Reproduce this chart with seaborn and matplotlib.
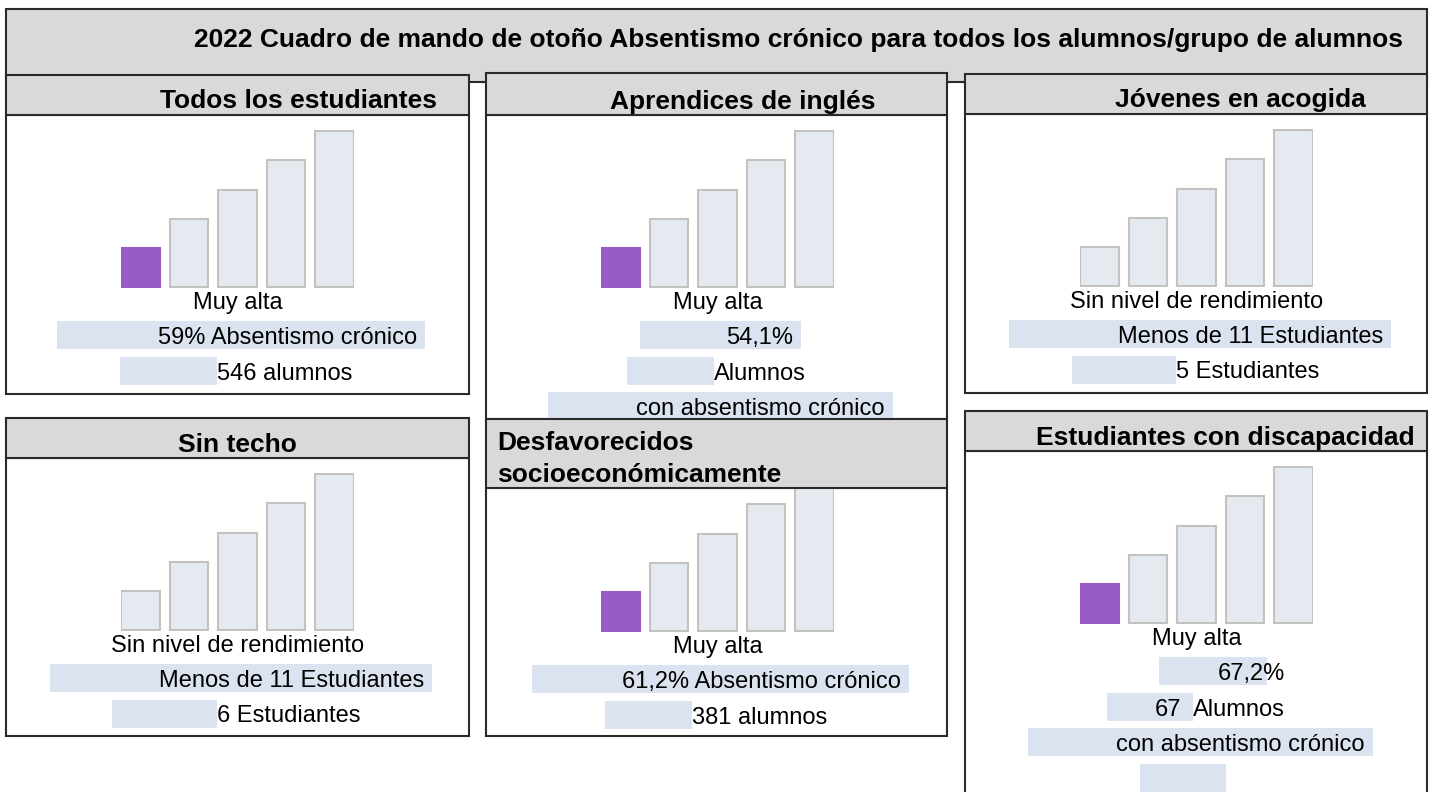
import matplotlib
matplotlib.use("Agg")
import matplotlib.pyplot as plt
import seaborn as sns
import pandas as pd
from matplotlib.patches import Rectangle

# ---- datos del cuadro de mando ----
titulo = "2022 Cuadro de mando de otoño Absentismo crónico para todos los alumnos/grupo de alumnos"
grupos = ["Todos los estudiantes", "Aprendices de inglés", "Jóvenes en acogida",
          "Sin techo", "Desfavorecidos\nsocioeconómicamente", "Estudiantes con discapacidad"]
niveles = ["1", "2", "3", "4", "5"]
alturas_nivel = [1, 1.75, 2.5, 3.25, 4]
nivel_marcado = [0, 0, None, None, 0, 0]
estado = ["Muy alta", "Muy alta", "Sin nivel de rendimiento",
          "Sin nivel de rendimiento", "Muy alta", "Muy alta"]
# (texto dentro de la franja, texto tras la franja)
filas_texto = [
    [("59% Absentismo crónico", ""), ("", "546 alumnos")],
    [("54,1%", ""), ("", "Alumnos"), ("con absentismo crónico", "")],
    [("Menos de 11 Estudiantes", ""), ("", "5 Estudiantes")],
    [("Menos de 11 Estudiantes", ""), ("", "6 Estudiantes")],
    [("61,2% Absentismo crónico", ""), ("", "381 alumnos")],
    [("67,2%", ""), ("67", "Alumnos"), ("con absentismo crónico", ""), ("", "")],
]

# ---- maqueta en píxeles ----
W, H = 1433, 792
# x0, x1, cabecera arriba, cabecera abajo, cuerpo abajo
cajas = [(6, 469, 75, 115, 394), (486, 947, 73, 115, 419), (965, 1427, 74, 114, 393),
         (6, 469, 418, 458, 736), (486, 947, 419, 488, 736), (965, 1427, 411, 451, 800)]
base_barras = [287, 287, 286, 630, 631, 623]
pos_cabecera = [(299, "center"), (743, "center"), (1240, "center"),
                (237, "center"), (497, "left"), (1225, "center")]
# x0, x1, fin del texto interior
franjas = [
    [(57, 425, 417), (120, 217, None)],
    [(640, 801, 793), (627, 714, None), (548, 893, 885)],
    [(1009, 1391, 1383), (1072, 1176, None)],
    [(50, 432, 424), (112, 217, None)],
    [(532, 909, 901), (605, 692, None)],
    [(1159, 1267, 1285), (1107, 1193, 1181), (1028, 1373, 1365), (1140, 1226, None)],
]

MORADO = "#995bc4"
GRIS_BARRA = "#e5e9f0"
BORDE_BARRA = "#c2c2c2"
GRIS_CAB = "#d9d9d9"
RESALTE = "#dae3ef"
BORDE = "#2a2a2a"
TEXTO = "black"

sns.set_theme(style="white")
plt.rcParams['font.family'] = ['Liberation Sans', 'DejaVu Sans']
plt.rcParams['text.color'] = TEXTO

fig = plt.figure(figsize=(W / 100, H / 100), dpi=100)
fondo = fig.add_axes([0, 0, 1, 1], zorder=0)
frente = fig.add_axes([0, 0, 1, 1], zorder=3)
for a in (fondo, frente):
    a.set_xlim(0, W)
    a.set_ylim(H, 0)
    a.axis("off")

# caja del título
fondo.add_patch(Rectangle((6, 9), 1421, 73, fc=GRIS_CAB, ec=BORDE, lw=1.5, zorder=1))
fondo.text(799, 47, titulo, ha="center", va="baseline", fontsize=19,
           fontweight="bold", color=TEXTO, zorder=2)

paso = 48.5
unidad = 39
for i, grupo in enumerate(grupos):
    x0, x1, ht, hb, bb = cajas[i]
    fondo.add_patch(Rectangle((x0, hb), x1 - x0, bb - hb, fc="white", ec=BORDE, lw=1.5, zorder=2))
    frente.add_patch(Rectangle((x0, ht), x1 - x0, hb - ht, fc=GRIS_CAB, ec=BORDE, lw=1.5, zorder=1))

    lineas = grupo.split("\n")
    hx, ha = pos_cabecera[i]
    if len(lineas) == 1:
        frente.text(hx, hb - 6.5, grupo, ha=ha, va="baseline", fontsize=19,
                    fontweight="bold", color=TEXTO, zorder=2)
    else:
        for k, linea in enumerate(lineas):
            frente.text(hx, ht + 31 + 32 * k, linea, ha=ha, va="baseline",
                        fontsize=19, fontweight="bold", color=TEXTO, zorder=2)

    # icono de niveles
    izq = x0 + 115
    base = base_barras[i]
    ax = fig.add_axes([izq / W, 1 - (base + 0.03 * unidad) / H,
                       4.8 * paso / W, 4.06 * unidad / H], zorder=1)
    df = pd.DataFrame({"nivel": niveles, "altura": alturas_nivel})
    colores = {n: (MORADO if k == nivel_marcado[i] else GRIS_BARRA) for k, n in enumerate(niveles)}
    sns.barplot(data=df, x="nivel", y="altura", hue="nivel", palette=colores, legend=False,
                width=0.8, saturation=1, ax=ax)
    for k, p in enumerate(ax.patches):
        p.set_edgecolor(MORADO if k == nivel_marcado[i] else BORDE_BARRA)
        p.set_linewidth(1.5)
    ax.set_xlim(-0.4, 4.4)
    ax.set_ylim(-0.03, 4.03)
    ax.axis("off")

    # textos
    centro = izq + 2.4 * paso
    fondo.text(centro, base + 22, estado[i], ha="center", va="baseline",
               fontsize=17, color=TEXTO, zorder=4)
    for k, (dentro, despues) in enumerate(filas_texto[i]):
        fx0, fx1, fin = franjas[i][k]
        arriba = base + 34 + 35.5 * k
        fondo.add_patch(Rectangle((fx0, arriba), fx1 - fx0, 28, fc=RESALTE, ec="none", zorder=3))
        if dentro:
            fondo.text(fin, arriba + 23, dentro, ha="right", va="baseline",
                       fontsize=17, color=TEXTO, zorder=4)
        if despues:
            fondo.text(fx1, arriba + 23, despues, ha="left", va="baseline",
                       fontsize=17, color=TEXTO, zorder=4)

fig.savefig("out.png", dpi=100)
